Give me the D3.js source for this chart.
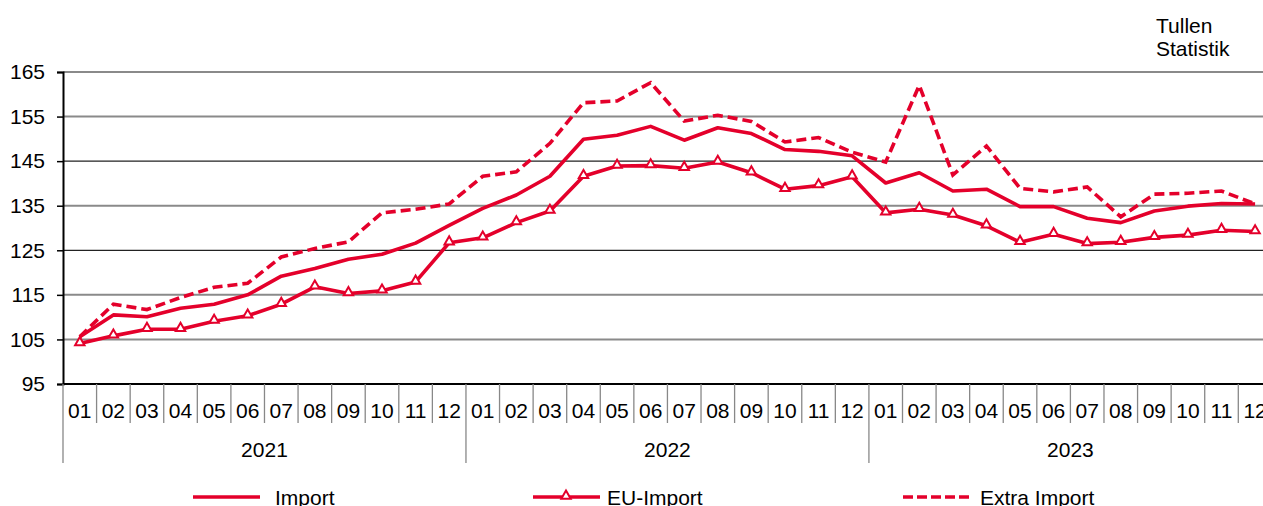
<!DOCTYPE html>
<html lang="de">
<head>
<meta charset="UTF-8">
<title>Import, EU-Import, Extra Import</title>
<script src="https://d3js.org/d3.v7.min.js"></script>
<style>
  body { margin: 0; background: #fff; }
  svg { display: block; font-family: "Liberation Sans", Arial, sans-serif; }
  .lbl { font-size: 21px; fill: #000; }
</style>
</head>
<body>
<div id="chart"></div>
<script>
// ------ data ------
const years = ["2021", "2022", "2023"];
const months = ["01","02","03","04","05","06","07","08","09","10","11","12"];
const yTicks = [95, 105, 115, 125, 135, 145, 155, 165];

const importVals = [105.6, 110.5, 110.1, 112.0, 112.9, 115.0, 119.2, 120.9, 123.0, 124.1, 126.6, 130.6,
                    134.4, 137.4, 141.6, 149.9, 150.8, 152.8, 149.7, 152.5, 151.2, 147.6, 147.2, 146.2,
                    140.1, 142.4, 138.3, 138.7, 134.8, 134.8, 132.2, 131.2, 133.8, 134.9, 135.5, 135.4];
const euImportVals = [104.1, 105.8, 107.3, 107.3, 109.1, 110.3, 112.9, 116.8, 115.3, 115.9, 117.9, 126.7,
                      127.8, 131.2, 133.8, 141.6, 143.9, 144.0, 143.4, 144.8, 142.4, 138.7, 139.5, 141.5,
                      133.4, 134.2, 132.9, 130.5, 126.8, 128.6, 126.5, 126.8, 127.9, 128.4, 129.5, 129.2];
const extraImportVals = [105.6, 112.9, 111.7, 114.4, 116.7, 117.6, 123.5, 125.4, 126.9, 133.4, 134.2, 135.4,
                         141.6, 142.6, 149.0, 158.1, 158.5, 162.6, 154.0, 155.3, 153.9, 149.3, 150.3, 147.0,
                         144.8, 162.0, 141.9, 148.4, 138.9, 138.1, 139.2, 132.5, 137.6, 137.8, 138.3, 135.4];

const seriesNames = ["Import", "EU-Import", "Extra Import"];

// ------ chart ------
const width = 1263, height = 506;
const red = "#e4002b";
const plotLeft = 63, plotTop = 72, plotBottom = 384;
const step = 33.58;

const periods = [];
years.forEach(yr => months.forEach(m => periods.push(yr + "-" + m)));

const x = d3.scaleBand()
  .domain(periods)
  .range([plotLeft, plotLeft + step * periods.length]);

const y = d3.scaleLinear()
  .domain([95, 165])
  .range([plotBottom, plotTop]);

const svg = d3.select("#chart")
  .append("svg")
    .attr("width", width)
    .attr("height", height);

// gridlines
svg.append("g")
  .selectAll("line")
  .data(yTicks.filter(d => d > 95))
  .join("line")
    .attr("x1", plotLeft)
    .attr("x2", width)
    .attr("y1", d => y(d))
    .attr("y2", d => y(d))
    .attr("stroke", d => (d === 145 || d === 125) ? "#222" : "#8a8a8a")
    .attr("stroke-width", d => (d === 145 || d === 125) ? 1.2 : 2);

// y axis
const yAxis = svg.append("g")
  .attr("transform", `translate(${plotLeft},0)`)
  .call(d3.axisLeft(y).tickValues(yTicks).tickSize(6).tickPadding(12).tickFormat(d3.format("d")));
yAxis.select(".domain").attr("stroke", "#000").attr("stroke-width", 2);
yAxis.selectAll(".tick line").attr("stroke", "#000").attr("stroke-width", 1.5);
yAxis.selectAll(".tick text")
  .attr("class", "lbl")
  .style("font-size", "21px")
  .style("font-family", "'Liberation Sans', Arial, sans-serif");

// x axis line
svg.append("line")
  .attr("x1", plotLeft).attr("x2", width)
  .attr("y1", plotBottom).attr("y2", plotBottom)
  .attr("stroke", "#000").attr("stroke-width", 2);

// month separators and labels
svg.append("g")
  .selectAll("line")
  .data(periods)
  .join("line")
    .attr("x1", d => x(d))
    .attr("x2", d => x(d))
    .attr("y1", plotBottom)
    .attr("y2", (d, i) => i % 12 === 0 ? 463 : 423)
    .attr("stroke", "#888")
    .attr("stroke-width", 1.3);

svg.append("g")
  .selectAll("text")
  .data(periods)
  .join("text")
    .attr("class", "lbl")
    .attr("x", d => x(d) + x.bandwidth() / 2)
    .attr("y", 410)
    .attr("text-anchor", "middle")
    .attr("dominant-baseline", "central")
    .text(d => d.split("-")[1]);

svg.append("g")
  .selectAll("text")
  .data(years)
  .join("text")
    .attr("class", "lbl")
    .attr("x", d => (x(d + "-01") + x(d + "-12") + x.bandwidth()) / 2)
    .attr("y", 449)
    .attr("text-anchor", "middle")
    .attr("dominant-baseline", "central")
    .text(d => d);

// source note
svg.append("text").attr("class", "lbl").attr("x", 1156).attr("y", 25)
  .attr("dominant-baseline", "central").text("Tullen");
svg.append("text").attr("class", "lbl").attr("x", 1156).attr("y", 48)
  .attr("dominant-baseline", "central").text("Statistik");

// lines
const line = d3.line()
  .x((d, i) => x(periods[i]) + x.bandwidth() / 2)
  .y(d => y(d));

svg.append("path")
  .attr("d", line(extraImportVals))
  .attr("fill", "none").attr("stroke", red).attr("stroke-width", 3.6)
  .attr("stroke-dasharray", "10,5");

svg.append("path")
  .attr("d", line(importVals))
  .attr("fill", "none").attr("stroke", red).attr("stroke-width", 3.6)
  .attr("stroke-linejoin", "round");

svg.append("path")
  .attr("d", line(euImportVals))
  .attr("fill", "none").attr("stroke", red).attr("stroke-width", 3.6)
  .attr("stroke-linejoin", "round");

const tri = d3.symbol(d3.symbolTriangle, 38);
svg.append("g")
  .selectAll("path")
  .data(euImportVals)
  .join("path")
    .attr("d", tri)
    .attr("transform", (d, i) => `translate(${x(periods[i]) + x.bandwidth() / 2},${y(d) - 1})`)
    .attr("fill", "#fff")
    .attr("stroke", red)
    .attr("stroke-width", 2);

// legend
const legendX = [193, 533, 903];
const legend = svg.append("g")
  .selectAll("g")
  .data(seriesNames)
  .join("g")
    .attr("transform", (d, i) => `translate(${legendX[i]},497)`);

legend.append("line")
  .attr("x1", 0).attr("x2", 67)
  .attr("stroke", red).attr("stroke-width", 3.6)
  .attr("stroke-dasharray", (d, i) => i === 2 ? "10,4" : null);

legend.filter((d, i) => i === 1)
  .append("path")
    .attr("d", tri)
    .attr("transform", "translate(33,-1)")
    .attr("fill", "#fff").attr("stroke", red).attr("stroke-width", 2);

legend.append("text")
  .attr("class", "lbl")
  .attr("x", (d, i) => i === 2 ? 77 : (i === 1 ? 74 : 82))
  .attr("dominant-baseline", "central")
  .text(d => d);
</script>
</body>
</html>
